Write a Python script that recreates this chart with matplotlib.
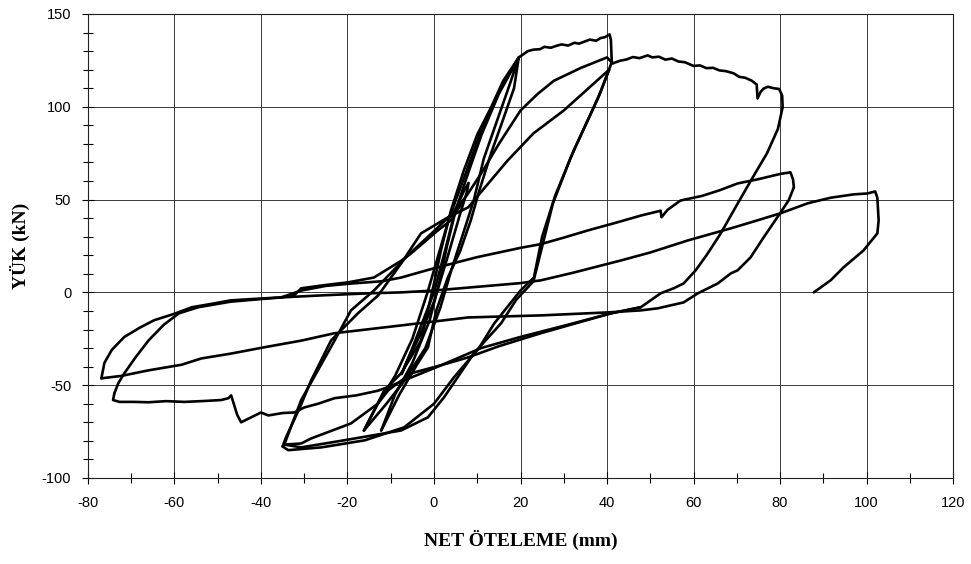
import matplotlib
matplotlib.use("Agg")
import matplotlib.pyplot as plt
from matplotlib.ticker import MultipleLocator

plt.rcParams['axes.unicode_minus'] = False

# ---- load-displacement branches (x: NET ÖTELEME mm, y: YÜK kN) ----
# small cycles (core bundle)
core1_x = [-16.2, -11.5, -7.6, -3.0, 0.0, 1.6, 3.9, 6.9, 10.0, 13.2, 16.0, 19.6,
           18.5, 15.5, 13.2, 10.5, 8.5, 6.0, 3.2, 0.5, -1.4, -3.7, -8.0, -12.2]
core1_y = [-74.4, -52.8, -43.6, -25.9, 4.8, 22.6, 44.0, 65.7, 85.0, 99.7, 114.0, 126.6,
           110.0, 90.0, 75.0, 55.0, 38.8, 22.0, 8.0, -10.0, -29.6, -38.0, -55.0, -74.4]
core2_x = [-12.2, -9.0, -5.0, -1.0, 1.5, 3.0, 5.0, 8.0, 11.0, 15.0, 19.6,
           17.5, 14.5, 11.5, 9.2, 6.5, 4.0, 1.5, -2.0, -7.0, -11.0, -16.2]
core2_y = [-74.4, -55.0, -38.0, -15.0, 8.0, 25.0, 44.0, 65.0, 85.0, 107.0, 126.6,
           112.0, 92.0, 72.0, 49.6, 30.0, 12.0, -8.0, -30.0, -48.0, -60.0, -74.4]
core3_x = [-16.2, -13.0, -9.0, -5.0, -1.5, 1.0, 3.5, 7.0, 11.0, 15.0, 19.6]
core3_y = [-74.4, -60.0, -45.0, -25.0, 0.0, 20.0, 40.0, 62.0, 88.0, 108.0, 126.6]
small_x = [0.0, 2.5, 5.0, 7.0, 8.0, 7.6, 6.0, 3.0, 0.0, -3.0, -6.0, -7.5, -5.0, -2.0, 0.0]
small_y = [0.0, 22.0, 45.0, 55.0, 59.0, 54.0, 42.0, 18.0, -5.0, -22.0, -36.0, -44.0, -30.0, -12.0, 0.0]

# first excursion to 40 mm
env40_x = [19.6, 21.7, 23.0, 24.5, 25.5, 27.0, 28.5, 29.5, 31.0, 32.5, 33.5, 35.0,
           36.0, 37.5, 38.5, 39.5, 40.6, 40.9, 41.0, 41.1]
env40_y = [126.6, 130.0, 130.8, 131.0, 132.3, 131.8, 133.0, 133.6, 133.0, 134.5, 134.0, 135.3,
           136.2, 135.6, 137.0, 137.5, 139.0, 136.0, 130.0, 124.0]
unl40a_x = [41.1, 38.5, 36.0, 32.3, 28.0, 25.0, 23.1, 20.0, 13.9, 10.4, 4.6, 0.0,
            -6.9, -16.0, -26.0, -33.7, -35.0]
unl40a_y = [124.0, 108.0, 95.0, 76.5, 52.0, 30.0, 8.0, 1.0, -16.8, -30.0, -45.8, -60.0,
            -72.7, -79.7, -83.5, -85.0, -83.0]
rel40a_x = [-35.0, -34.2, -31.0, -28.4, -23.8, -17.6, -12.9, -7.6, -3.0, 3.2, 7.9,
            17.0, 23.0, 30.0, 40.5]
rel40a_y = [-83.0, -78.0, -62.0, -47.4, -25.9, -11.3, -1.6, 15.6, 31.8, 40.4, 45.8,
            71.0, 85.7, 98.0, 120.0]
unl40b_x = [40.5, 38.0, 35.0, 31.5, 27.5, 23.0, 19.0, 15.5, 9.2, 2.3, -1.4, -7.6,
            -20.8, -30.7, -34.6]
unl40b_y = [120.0, 105.0, 90.0, 72.0, 48.0, 6.0, -4.0, -16.7, -32.9, -56.6, -67.3, -74.4,
            -79.7, -83.5, -82.0]
rel40b_x = [-34.6, -33.0, -30.7, -23.0, -19.2, -13.9, -6.0, 0.0, 4.0, 7.5, 10.9,
            15.0, 20.0, 24.0, 27.7, 34.0, 40.0, 41.3]
rel40b_y = [-82.0, -72.0, -58.0, -26.0, -9.7, 1.0, 20.0, 33.0, 42.0, 52.0, 64.0,
            80.0, 98.0, 107.0, 114.0, 121.0, 126.6, 123.4]

# excursion to 80 mm and unloading into the negative side
env80_x = [41.3, 43.0, 44.5, 46.0, 47.5, 49.4, 50.5, 52.0, 53.5, 55.0, 56.5, 58.0,
           60.0, 61.5, 63.0, 64.5, 66.0, 67.5, 69.3, 70.5, 72.0, 73.5, 74.6, 74.8,
           75.5, 76.2, 77.2, 78.5, 79.8, 80.5, 80.6]
env80_y = [123.4, 124.8, 125.5, 126.8, 126.2, 127.7, 126.6, 127.0, 125.4, 126.0, 124.4, 124.0,
           122.0, 122.3, 120.8, 121.0, 119.6, 119.2, 118.0, 116.2, 115.6, 114.0, 112.0, 104.5,
           108.0, 109.8, 110.8, 110.0, 109.6, 106.0, 99.7]
unl80_x = [80.6, 79.5, 77.0, 73.2, 69.5, 66.3, 63.0, 60.5, 57.7, 55.4, 52.4, 47.8,
           40.9, 30.0, 20.0, 10.9, 0.9, -6.9, -10.6, -13.0, -18.0, -23.0, -26.8,
           -30.0, -32.3, -35.0, -38.3, -40.0, -42.0, -44.6, -45.5, -46.9, -47.5,
           -49.2, -53.0, -57.7, -62.0, -66.0, -69.3, -72.7, -74.2, -73.9]
unl80_y = [99.7, 88.0, 75.0, 60.0, 45.0, 31.8, 20.0, 11.9, 4.8, 2.2, -0.5, -8.0,
           -11.3, -18.0, -24.0, -30.0, -40.0, -47.4, -51.0, -53.0, -55.5, -57.0, -60.0,
           -62.0, -64.7, -65.0, -66.3, -64.7, -67.0, -70.0, -66.0, -55.5, -57.0,
           -58.0, -58.5, -59.0, -58.6, -59.2, -59.0, -59.0, -58.0, -54.4]
# return line from the -35 mm tip towards the 80 mm unloading curve
ret35_x = [-34.6, -30.7, -28.4, -19.2, -13.0, -10.6, -5.3, 2.0, 7.9, 15.0, 24.7, 33.0, 40.9, 47.8]
ret35_y = [-82.0, -81.4, -78.7, -70.6, -60.0, -52.8, -43.6, -39.0, -35.0, -29.0, -22.0, -16.5, -11.3, -8.0]

# reload from -74 mm to the 83 mm peak
inner_x = [-73.9, -73.0, -71.6, -69.0, -66.0, -62.5, -59.0, -54.5, -47.0, -40.0, -35.3,
           -30.7, -25.0, -19.0, -12.0, -7.6, 0.0, 10.0, 20.0, 24.7, 30.0, 35.6, 42.0,
           48.0, 52.4, 52.6, 54.0, 57.0, 62.0, 66.0, 70.2, 75.0, 80.0, 82.4, 83.0, 83.2]
inner_y = [-54.4, -49.0, -43.6, -35.0, -25.9, -17.5, -11.3, -8.0, -5.0, -3.6, -2.7,
           1.0, 3.5, 4.8, 6.0, 8.0, 13.0, 19.0, 24.0, 26.0, 29.5, 33.4, 37.5,
           41.5, 44.0, 40.5, 44.5, 49.5, 52.0, 55.0, 58.7, 61.0, 63.8, 64.7, 61.0, 56.6]
# unloading from 83 mm to the -77 mm tip
unl83_x = [83.2, 82.0, 80.0, 76.2, 73.2, 70.2, 68.6, 65.6, 61.0, 57.7, 51.7, 47.8,
           40.0, 24.7, 7.9, -7.6, -23.0, -30.7, -39.3, -47.0, -53.8, -58.4, -66.0,
           -72.3, -76.9]
unl83_y = [56.6, 49.6, 42.6, 29.6, 18.9, 11.9, 10.2, 4.8, -0.5, -5.4, -8.6, -9.7,
           -10.8, -12.4, -13.5, -17.8, -22.0, -26.0, -29.6, -33.0, -35.6, -39.0, -42.0,
           -45.0, -46.3]
# reload from -77 mm to the 103 mm peak, then final unloading
load103_x = [-76.9, -76.2, -74.5, -71.6, -68.0, -64.7, -60.0, -56.0, -51.0, -47.0, -40.0,
             -35.3, -25.0, -15.0, -7.6, 0.0, 10.0, 20.0, 24.7, 32.0, 43.2, 50.0, 58.7,
             68.6, 73.2, 80.1, 86.4, 91.7, 97.0, 100.2, 102.0, 102.5, 102.8, 102.5,
             99.3, 94.7, 91.7, 87.8]
load103_y = [-46.3, -38.0, -31.0, -24.0, -19.0, -15.0, -11.5, -8.0, -6.0, -4.3, -3.3,
             -2.7, -1.5, -0.5, 0.0, 1.0, 3.0, 5.0, 6.5, 10.5, 17.2, 21.5, 28.0,
             34.5, 37.7, 42.6, 48.0, 51.0, 52.8, 53.3, 54.4, 51.0, 38.8, 31.8,
             22.6, 13.5, 6.5, 0.0]
# steep return from the left side into the core bundle
upper_x = [-35.3, -32.3, -30.7, -25.0, -19.9, -13.9, -7.6, -5.3, 0.9, 3.9, 7.0]
upper_y = [-2.7, -1.5, 2.2, 4.0, 5.4, 8.0, 17.0, 21.0, 33.4, 38.8, 50.0]

branches = [
    (core1_x, core1_y), (core2_x, core2_y), (core3_x, core3_y), (small_x, small_y),
    (env40_x, env40_y), (unl40a_x, unl40a_y), (rel40a_x, rel40a_y),
    (unl40b_x, unl40b_y), (rel40b_x, rel40b_y), (env80_x, env80_y),
    (unl80_x, unl80_y), (ret35_x, ret35_y), (inner_x, inner_y),
    (unl83_x, unl83_y), (load103_x, load103_y), (upper_x, upper_y),
]

x_ticks = [-80, -60, -40, -20, 0, 20, 40, 60, 80, 100, 120]
y_ticks = [-100, -50, 0, 50, 100, 150]

fig = plt.figure(figsize=(9.71, 5.64), dpi=100)
ax = fig.add_axes([0.0906, 0.1525, 0.8909, 0.8227])

for bx, by in branches:
    ax.plot(bx, by, color='black', lw=1.9, solid_joinstyle='round',
            solid_capstyle='round', zorder=3)

ax.set_xlim(-80, 120)
ax.set_ylim(-100, 150)
ax.set_xticks(x_ticks)
ax.set_yticks(y_ticks)
ax.set_xticklabels([str(v) for v in x_ticks])
ax.set_yticklabels([str(v) for v in y_ticks])
ax.xaxis.set_minor_locator(MultipleLocator(10))
ax.yaxis.set_minor_locator(MultipleLocator(10))
ax.grid(True, which='major', color='#3a3a3a', lw=0.7, zorder=1)
ax.tick_params(which='both', direction='inout', length=7, width=0.8,
               top=False, right=False, labelsize=10.5)
ax.tick_params(which='major', length=8)
ax.tick_params(axis='x', pad=9)
ax.tick_params(axis='y', pad=8)
for s in ax.spines.values():
    s.set_linewidth(0.8)
    s.set_color('#222222')
for lbl in ax.get_xticklabels() + ax.get_yticklabels():
    lbl.set_fontfamily('Liberation Sans')

ax.set_xlabel('NET ÖTELEME (mm)', fontfamily='Liberation Serif', fontweight='bold',
              fontsize=14)
ax.set_ylabel('YÜK (kN)', fontfamily='Liberation Serif', fontweight='bold',
              fontsize=14)
ax.xaxis.set_label_coords(0.5, -0.113)
ax.yaxis.set_label_coords(-0.067, 0.5)

fig.savefig('out.png', dpi=100)
